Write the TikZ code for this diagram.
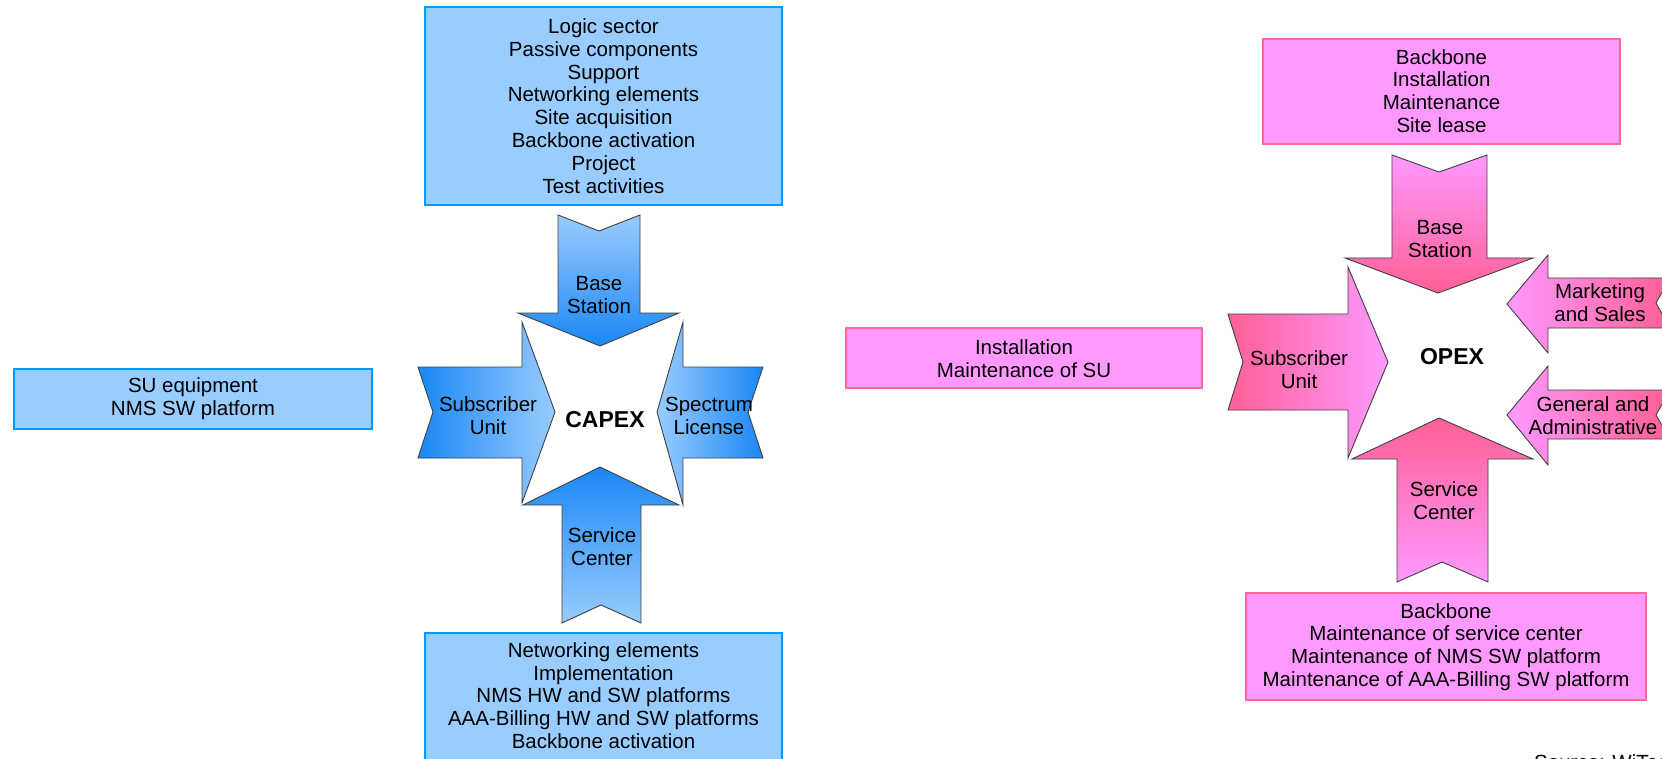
\documentclass[tikz,border=0pt]{standalone}
\usepackage{fontspec}
\setmainfont{Liberation Sans}
\definecolor{bluefill}{RGB}{153,204,255}
\definecolor{blueline}{RGB}{0,153,255}
\definecolor{bluedark}{RGB}{25,135,245}
\definecolor{pinkfill}{RGB}{255,153,255}
\definecolor{pinkline}{RGB}{255,102,153}
\definecolor{pinkdark}{RGB}{255,95,150}
\tikzset{
  txt/.style={font=\fontsize{20.5}{22.8}\selectfont, align=center, inner sep=0pt, text=black},
  bigtxt/.style={font=\fontsize{23}{26}\selectfont\bfseries, inner sep=0pt, text=black},
  bluebox/.style={draw=blueline, fill=bluefill, line width=2pt, inner sep=0pt},
  pinkbox/.style={draw=pinkline, fill=pinkfill, line width=2pt, inner sep=0pt},
  arr/.style={draw=black!75, line width=0.9pt, line join=miter},
}
\begin{document}
\begin{tikzpicture}[x=1pt, y=-1pt]
\useasboundingbox[fill=white] (0,0) rectangle (1662,759);

% ---------- CAPEX boxes ----------
\node[bluebox, minimum width=357, minimum height=198] (capextop) at (603.5,106) {};
\node[txt] (capextoptxt) at (603.5,106) {Logic sector\\Passive components\\Support\\Networking elements\\Site acquisition\\Backbone activation\\Project\\Test activities};
\node[bluebox, minimum width=357, minimum height=150, anchor=north] (capexbot) at (603.5,632) {};
\node[txt] (capexbottxt) at (603.5,695.5) {Networking elements\\Implementation\\NMS HW and SW platforms\\AAA-Billing HW and SW platforms\\Backbone activation};
\node[bluebox, minimum width=358, minimum height=60] (subox) at (193,399) {};
\node[txt] (suboxtxt) at (193,398.5) {SU equipment\\NMS SW platform};

% ---------- CAPEX arrows ----------
\shadedraw[arr, top color=bluefill, bottom color=bluedark]
  (558,215) -- (599,231) -- (640,215) -- (640,313) -- (679,313) -- (600,346) -- (518,313) -- (558,313) -- cycle;
\shadedraw[arr, left color=bluedark, right color=bluefill]
  (418,367) -- (522,367) -- (522,322) -- (555,412) -- (522,503) -- (522,458) -- (418,458) -- (433,412) -- cycle;
\shadedraw[arr, left color=bluefill, right color=bluedark]
  (763,367) -- (683,367) -- (683,322) -- (657,412) -- (683,505) -- (683,458) -- (763,458) -- (748,412) -- cycle;
\shadedraw[arr, top color=bluedark, bottom color=bluefill]
  (562,623) -- (601,605) -- (641,623) -- (641,505) -- (679,505) -- (600,467) -- (523,505) -- (562,505) -- cycle;

\node[txt] (cbs) at (599,295) {Base\\Station};
\node[txt] (csu) at (488,416) {Subscriber\\Unit};
\node[txt] (csl) at (709,416) {Spectrum\\License};
\node[txt] (csc) at (602,547) {Service\\Center};
\node[bigtxt] (capex) at (605,420) {CAPEX};

% ---------- OPEX boxes ----------
\node[pinkbox, minimum width=356, minimum height=60] (instbox) at (1024,358) {};
\node[txt] (instboxtxt) at (1024,359) {Installation\\Maintenance of SU};
\node[pinkbox, minimum width=357, minimum height=105] (opextop) at (1441.5,91.5) {};
\node[txt] (opextoptxt) at (1441.5,91) {Backbone\\Installation\\Maintenance\\Site lease};
\node[pinkbox, minimum width=400, minimum height=107] (opexbot) at (1446,646.5) {};
\node[txt] (opexbottxt) at (1446,647) {Backbone\\Maintenance of service center\\Maintenance of NMS SW platform\\Maintenance of AAA-Billing SW platform};

% ---------- OPEX arrows ----------
\shadedraw[arr, top color=pinkfill, bottom color=pinkdark]
  (1392,155) -- (1439,172) -- (1487,155) -- (1487,258) -- (1533,258) -- (1438,293) -- (1345,258) -- (1392,258) -- cycle;
\shadedraw[arr, left color=pinkdark, right color=pinkfill]
  (1228,314) -- (1348,314) -- (1348,267) -- (1388,362) -- (1348,458) -- (1348,410) -- (1228,410) -- (1243,362) -- cycle;
\shadedraw[arr, left color=pinkfill, right color=pinkdark]
  (1670,278) -- (1548,278) -- (1548,255) -- (1507,304) -- (1548,353) -- (1548,328) -- (1670,328) -- (1656,303) -- cycle;
\shadedraw[arr, left color=pinkfill, right color=pinkdark]
  (1670,390) -- (1548,390) -- (1548,366) -- (1507,415) -- (1548,465) -- (1548,439) -- (1670,439) -- (1656,415) -- cycle;
\shadedraw[arr, top color=pinkdark, bottom color=pinkfill]
  (1397,582) -- (1442,562) -- (1488,582) -- (1488,459) -- (1533,459) -- (1439,418) -- (1352,459) -- (1397,459) -- cycle;

\node[txt] (obs) at (1440,239) {Base\\Station};
\node[txt] (osu) at (1299,370) {Subscriber\\Unit};
\node[txt] (oms) at (1600,303) {Marketing\\and Sales};
\node[txt] (oga) at (1593,416) {General and\\Administrative};
\node[txt] (osc) at (1444,501) {Service\\Center};
\node[bigtxt] (opex) at (1452,357) {OPEX};

\node[txt, anchor=north west] (source) at (1534,754) {Source: WiTech};
\end{tikzpicture}
\end{document}
